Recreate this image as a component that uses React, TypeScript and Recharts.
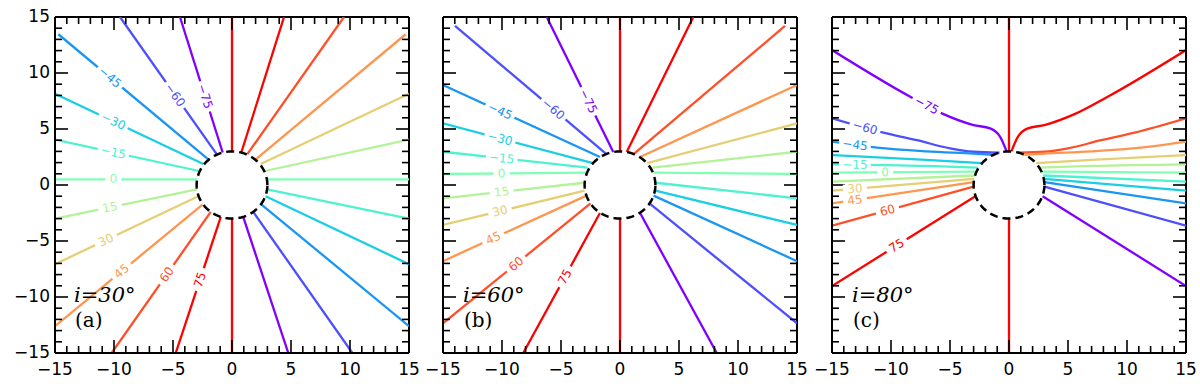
import React from 'react';
import { ComposedChart, Line, Scatter, XAxis, YAxis, ReferenceLine } from 'recharts';

type Contour = { v: number; pts: number[][] };
type Tag = { v: number; x: number };

// matplotlib "rainbow" sampled at the contour levels
const LEVEL_COLORS: Record<number, string> = {
  [-75]: '#8000ff',
  [-60]: '#4d4ffc',
  [-45]: '#1a96f2',
  [-30]: '#1acee3',
  [-15]: '#4df2ce',
  0: '#80ffb4',
  15: '#b3f296',
  30: '#e6ce74',
  45: '#ff964f',
  60: '#ff4f28',
  75: '#ff0000',
  90: '#ff0000',
};

const TICKS = [-15, -14, -13, -12, -11, -10, -9, -8, -7, -6, -5, -4, -3, -2, -1, 0, 1, 2, 3, 4, 5, 6, 7, 8, 9, 10, 11, 12, 13, 14, 15];
const LABEL_TICKS = [-15, -10, -5, 0, 5, 10, 15];
const HORIZON_R = 3;

const POLE: Contour[] = [
  { v: 90, pts: [[0, 3], [0, 15]] },
  { v: 90, pts: [[0, -3], [0, -15]] },
];

// (a) i = 30
const A_LEFT: Contour[] = [
  { v: -75, pts: [[-4.41, 15], [-0.79, 2.9]] },
  { v: -60, pts: [[-9.49, 15], [-1.3, 2.76]] },
  { v: -45, pts: [[-14.72, 13.46], [-2.01, 2.29]] },
  { v: -30, pts: [[-15, 8.15], [-2.43, 1.88]] },
  { v: -15, pts: [[-15, 4.05], [-2.8, 1.25]] },
  { v: 0, pts: [[-15, 0.5], [-2.96, 0.5]] },
  { v: 15, pts: [[-15, -3.0], [-2.97, -0.4]] },
  { v: 30, pts: [[-15, -7.07], [-2.85, -1.0]] },
  { v: 45, pts: [[-15, -12.6], [-2.5, -1.75]] },
  { v: 60, pts: [[-10.2, -15], [-1.8, -2.4]] },
  { v: 75, pts: [[-4.77, -15], [-0.95, -2.85]] },
];
const A_RIGHT: Contour[] = [
  { v: 75, pts: [[0.79, 2.9], [4.41, 15]] },
  { v: 60, pts: [[1.3, 2.76], [9.49, 15]] },
  { v: 45, pts: [[2.01, 2.29], [14.72, 13.46]] },
  { v: 30, pts: [[2.43, 1.88], [15, 8.15]] },
  { v: 15, pts: [[2.8, 1.25], [15, 4.05]] },
  { v: 0, pts: [[2.96, 0.5], [15, 0.5]] },
  { v: -15, pts: [[2.97, -0.4], [15, -3.0]] },
  { v: -30, pts: [[2.85, -1.0], [15, -7.07]] },
  { v: -45, pts: [[2.5, -1.75], [15, -12.6]] },
  { v: -60, pts: [[1.8, -2.4], [10.2, -15]] },
  { v: -75, pts: [[0.95, -2.85], [4.77, -15]] },
];
const A_TAGS: Tag[] = [
  { v: -75, x: -2.29 }, { v: -60, x: -4.83 }, { v: -45, x: -10.34 }, { v: -30, x: -10.06 },
  { v: -15, x: -10.06 }, { v: 0, x: -10.06 }, { v: 15, x: -10.34 }, { v: 30, x: -10.68 },
  { v: 45, x: -9.35 }, { v: 60, x: -5.53 }, { v: 75, x: -2.71 },
];

// (b) i = 60
const B_LEFT: Contour[] = [
  { v: -75, pts: [[-6.21, 15], [-0.57, 2.95]] },
  { v: -60, pts: [[-13.98, 14.2], [-1.15, 2.75]] },
  { v: -45, pts: [[-15, 8.93], [-1.7, 2.5]] },
  { v: -30, pts: [[-15, 5.5], [-2.3, 1.95]] },
  { v: -15, pts: [[-15, 2.97], [-2.75, 1.55]] },
  { v: 0, pts: [[-15, 0.98], [-2.85, 1.1]] },
  { v: 15, pts: [[-15, -1.19], [-3.0, 0.2]] },
  { v: 30, pts: [[-15, -3.57], [-3.0, -0.5]] },
  { v: 45, pts: [[-15, -6.8], [-2.85, -0.95]] },
  { v: 60, pts: [[-15, -12.35], [-2.5, -1.65]] },
  { v: 75, pts: [[-8.2, -15], [-1.7, -2.5]] },
];
const B_RIGHT: Contour[] = [
  { v: 75, pts: [[0.57, 2.95], [6.21, 15]] },
  { v: 60, pts: [[1.15, 2.75], [13.98, 14.2]] },
  { v: 45, pts: [[1.7, 2.5], [15, 8.93]] },
  { v: 30, pts: [[2.3, 1.95], [15, 5.5]] },
  { v: 15, pts: [[2.75, 1.55], [15, 2.97]] },
  { v: 0, pts: [[2.85, 1.1], [15, 0.98]] },
  { v: -15, pts: [[3.0, 0.2], [15, -1.19]] },
  { v: -30, pts: [[3.0, -0.5], [15, -3.57]] },
  { v: -45, pts: [[2.85, -0.95], [15, -6.8]] },
  { v: -60, pts: [[2.5, -1.65], [15, -12.35]] },
  { v: -75, pts: [[1.7, -2.5], [8.2, -15]] },
];
const B_TAGS: Tag[] = [
  { v: -75, x: -2.69 }, { v: -60, x: -5.65 }, { v: -45, x: -10.17 }, { v: -30, x: -10.17 },
  { v: -15, x: -10.03 }, { v: 0, x: -10.03 }, { v: 15, x: -10.03 }, { v: 30, x: -10.17 },
  { v: 45, x: -10.74 }, { v: 60, x: -8.81 }, { v: 75, x: -4.66 },
];

// (c) i = 80
const C_LEFT: Contour[] = [
  { v: -75, pts: [[-15, 12.05], [-8.4, 7.9], [-5.6, 6.35], [-3.0, 5.35], [-1.6, 5.05], [-0.75, 4.3], [-0.2, 3.0]] },
  { v: -60, pts: [[-15, 5.95], [-10.65, 4.67], [-7.8, 4.0], [-5.0, 3.27], [-3.0, 2.97], [-0.8, 2.89]] },
  { v: -45, pts: [[-15, 3.87], [-11.2, 3.33], [-7.0, 3.0], [-3.0, 2.8], [-1.3, 2.7]] },
  { v: -30, pts: [[-15, 2.68], [-7, 2.25], [-2.3, 1.95]] },
  { v: -15, pts: [[-15, 1.85], [-7, 1.7], [-2.65, 1.55]] },
  { v: 0, pts: [[-15, 1.1], [-2.8, 1.2]] },
  { v: 15, pts: [[-15, 0.3], [-2.9, 0.85]] },
  { v: 30, pts: [[-15, -0.5], [-2.97, 0.55]] },
  { v: 45, pts: [[-15, -1.64], [-3.0, 0.25]] },
  { v: 60, pts: [[-15, -3.63], [-3.0, -0.15]] },
  { v: 75, pts: [[-15, -9.02], [-2.85, -1.0]] },
];
const C_RIGHT: Contour[] = [
  { v: 75, pts: [[0.2, 3.0], [0.75, 4.3], [1.6, 5.05], [3.0, 5.35], [5.6, 6.35], [8.4, 7.9], [15, 12.05]] },
  { v: 60, pts: [[0.8, 2.89], [3.0, 2.97], [5.0, 3.27], [7.8, 4.0], [10.65, 4.67], [15, 5.95]] },
  { v: 45, pts: [[1.3, 2.7], [3.0, 2.8], [7.0, 3.0], [11.2, 3.33], [15, 3.87]] },
  { v: 30, pts: [[2.3, 1.95], [7, 2.25], [15, 2.68]] },
  { v: 15, pts: [[2.65, 1.55], [7, 1.7], [15, 1.85]] },
  { v: 0, pts: [[2.8, 1.2], [15, 1.1]] },
  { v: -15, pts: [[2.9, 0.85], [15, 0.3]] },
  { v: -30, pts: [[2.97, 0.55], [15, -0.5]] },
  { v: -45, pts: [[3.0, 0.25], [15, -1.64]] },
  { v: -60, pts: [[3.0, -0.15], [15, -3.63]] },
  { v: -75, pts: [[2.85, -1.0], [15, -9.02]] },
];
const C_TAGS: Tag[] = [
  { v: -75, x: -6.97 }, { v: -60, x: -12.2 }, { v: -45, x: -13.05 }, { v: -15, x: -13.05 },
  { v: 0, x: -10.5 }, { v: 30, x: -13.05 }, { v: 45, x: -13.05 }, { v: 60, x: -10.3 }, { v: 75, x: -9.52 },
];

const Y_AXIS_W = 55;
const X_AXIS_H = 30;
const PLOT_W = 354;
const PLOT_H = 336;
const M_TOP = 12;
const M_RIGHT = 14;
const CHART_W = Y_AXIS_W + PLOT_W + M_RIGHT;
const CHART_H = M_TOP + PLOT_H + X_AXIS_H;
const KX = PLOT_W / 30;
const KY = PLOT_H / 30;

const fmt = (n: number) => (n < 0 ? '\u2212' + Math.abs(n) : String(n));

const horizon = Array.from({ length: 73 }, (_, i) => {
  const t = (i * 5 * Math.PI) / 180;
  return { x: HORIZON_R * Math.cos(t), y: HORIZON_R * Math.sin(t) };
});

// tick marks on all four sides of the frame, positioned by the chart scales
const frameTicks = [
  ...TICKS.map((v) => ({ x: v, y: -15, v, side: 'bottom' })),
  ...TICKS.map((v) => ({ x: v, y: 15, v, side: 'top' })),
  ...TICKS.map((v) => ({ x: -15, y: v, v, side: 'left' })),
  ...TICKS.map((v) => ({ x: 15, y: v, v, side: 'right' })),
];

const toPts = (c: Contour) => c.pts.map(([x, y]) => ({ x, y }));

function placeTags(lines: Contour[], tags: Tag[]) {
  return tags.map((t) => {
    const pts = lines.find((l) => l.v === t.v)!.pts;
    for (let i = 0; i < pts.length - 1; i++) {
      const [x0, y0] = pts[i];
      const [x1, y1] = pts[i + 1];
      if ((t.x - x0) * (t.x - x1) <= 0) {
        const f = (t.x - x0) / (x1 - x0);
        const slope = (y1 - y0) / (x1 - x0);
        const angle = (-Math.atan((slope * KY) / KX) * 180) / Math.PI;
        return { x: t.x, y: y0 + f * (y1 - y0), v: t.v, angle };
      }
    }
    return { x: t.x, y: pts[0][1], v: t.v, angle: 0 };
  });
}

const TagShape = (props: any) => {
  const { cx, cy, payload } = props;
  const label = fmt(payload.v);
  const fs = 12;
  const w = label.length * fs * 0.66 + 8;
  return (
    <g transform={`translate(${cx},${cy}) rotate(${payload.angle})`}>
      <rect x={-w / 2} y={-5} width={w} height={10} fill="#fff" />
      <text
        x={0}
        y={0}
        textAnchor="middle"
        dominantBaseline="central"
        fontSize={fs}
        fontFamily="DejaVu Sans"
        fill={LEVEL_COLORS[payload.v]}
      >
        {label}
      </text>
    </g>
  );
};

const TickShape = (props: any) => {
  const { cx, cy, payload } = props;
  const len = payload.v % 5 === 0 ? 13 : 7;
  let dx = 0;
  let dy = 0;
  if (payload.side === 'bottom') dy = -len;
  else if (payload.side === 'top') dy = len;
  else if (payload.side === 'left') dx = len;
  else dx = -len;
  return <path d={`M${cx},${cy}L${cx + dx},${cy + dy}`} stroke="#000" strokeWidth={1.6} fill="none" />;
};

const BottomLabel = (props: any) => {
  const { x, y, payload } = props;
  return (
    <text x={x} y={y + 16} textAnchor="middle" dominantBaseline="central" fontSize={17} fontFamily="DejaVu Sans" fill="#000">
      {fmt(payload.value)}
    </text>
  );
};

const LeftLabel = (props: any) => {
  const { x, y, payload, show } = props;
  if (!show) return <g />;
  return (
    <text x={x - 5} y={y - 1} textAnchor="end" dominantBaseline="central" fontSize={17} fontFamily="DejaVu Sans" fill="#000">
      {fmt(payload.value)}
    </text>
  );
};

const Panel = ({
  left,
  lines,
  tags,
  curved,
  yLabels,
}: {
  left: number;
  lines: Contour[];
  tags: Tag[];
  curved: boolean;
  yLabels: boolean;
}) => {
  const tagData = placeTags(lines, tags);
  const all = [...POLE, ...lines];
  return (
    <div style={{ position: 'absolute', left, top: 5 }}>
      <ComposedChart width={CHART_W} height={CHART_H} margin={{ top: M_TOP, right: M_RIGHT, bottom: 0, left: 0 }}>
        <XAxis
          dataKey="x"
          type="number"
          domain={[-15, 15]}
          ticks={LABEL_TICKS}
          interval={0}
          allowDataOverflow
          height={X_AXIS_H}
          tickSize={0}
          tickMargin={0}
          tickLine={false}
          axisLine={{ stroke: '#000', strokeWidth: 2 }}
          tick={(p: any) => <BottomLabel {...p} />}
        />
        <YAxis
          dataKey="y"
          type="number"
          domain={[-15, 15]}
          ticks={LABEL_TICKS}
          interval={0}
          allowDataOverflow
          width={Y_AXIS_W}
          tickSize={0}
          tickMargin={0}
          tickLine={false}
          axisLine={{ stroke: '#000', strokeWidth: 2 }}
          tick={(p: any) => <LeftLabel {...p} show={yLabels} />}
        />
        <ReferenceLine y={15} stroke="#000" strokeWidth={2} />
        <ReferenceLine x={15} stroke="#000" strokeWidth={2} />
        {all.map((c, i) => (
          <Line
            key={i}
            data={toPts(c)}
            dataKey="y"
            type={curved ? 'monotone' : 'linear'}
            stroke={LEVEL_COLORS[c.v]}
            strokeWidth={2.3}
            dot={false}
            activeDot={false}
            isAnimationActive={false}
          />
        ))}
        <Line
          data={horizon}
          dataKey="y"
          type="linear"
          stroke="#000"
          strokeWidth={2.5}
          strokeDasharray="8 5"
          dot={false}
          activeDot={false}
          isAnimationActive={false}
        />
        <Scatter data={frameTicks} dataKey="y" shape={TickShape} isAnimationActive={false} />
        <Scatter data={tagData} dataKey="y" shape={TagShape} isAnimationActive={false} />
      </ComposedChart>
    </div>
  );
};

const NOTES = [
  { x: 74, label: 'i=30°', tag: '(a)' },
  { x: 463, label: 'i=60°', tag: '(b)' },
  { x: 852, label: 'i=80°', tag: '(c)' },
];

export default function App() {
  return (
    <div style={{ position: 'absolute', left: 0, top: 0, width: 1200, height: 390, background: '#fff' }}>
      <Panel left={0} lines={[...A_LEFT, ...A_RIGHT]} tags={A_TAGS} curved={false} yLabels />
      <Panel left={388} lines={[...B_LEFT, ...B_RIGHT]} tags={B_TAGS} curved={false} yLabels={false} />
      <Panel left={777} lines={[...C_LEFT, ...C_RIGHT]} tags={C_TAGS} curved yLabels={false} />
      <svg width={1200} height={390} style={{ position: 'absolute', left: 0, top: 0, pointerEvents: 'none' }}>
        {NOTES.map((n) => (
          <g key={n.tag}>
            <text x={n.x} y={302} fontSize={21} fontStyle="italic" fontFamily="DejaVu Serif" fill="#000">
              {n.label}
            </text>
            <text x={n.x + 1} y={327} fontSize={20} fontFamily="DejaVu Serif" fill="#000">
              {n.tag}
            </text>
          </g>
        ))}
      </svg>
    </div>
  );
}
